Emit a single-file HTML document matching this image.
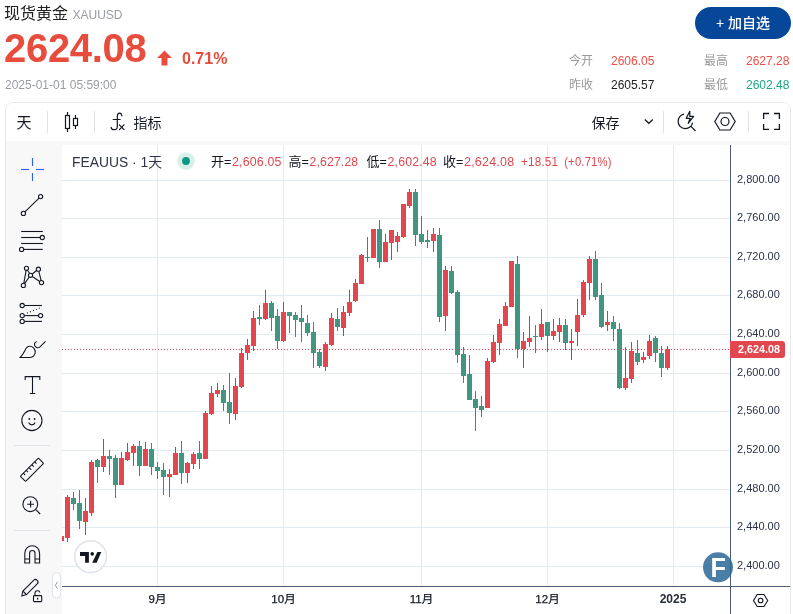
<!DOCTYPE html>
<html lang="zh-CN"><head><meta charset="utf-8"><title>现货黄金 XAUUSD</title>
<style>
html,body{margin:0;padding:0;}
body{width:793px;height:614px;overflow:hidden;position:relative;background:#fff;font-family:"Liberation Sans","Noto Sans CJK SC",sans-serif;}
.a{position:absolute;white-space:nowrap;line-height:1;}
.cjk{font-family:"Liberation Sans","Noto Sans CJK SC",sans-serif;}
</style></head><body>

<div class="a" style="left:4px;top:6px;font-size:16px;color:#222;">现货黄金 <span style="font-size:12px;color:#9a9ca6;position:relative;top:0px;">XAUUSD</span></div>
<div class="a" style="left:4px;top:28px;font-size:40px;font-weight:bold;color:#e84c3d;letter-spacing:-0.3px;">2624.08</div>
<svg class="a" style="left:156px;top:50px" width="17" height="16" viewBox="0 0 17 16"><path d="M8.5 0.5 L16 8 L11.5 8 L11.5 15.5 L5.5 15.5 L5.5 8 L1 8 Z" fill="#e84c3d"/></svg>
<div class="a" style="left:182px;top:51px;font-size:16px;font-weight:bold;color:#e84c3d;">0.71%</div>
<div class="a" style="left:5px;top:79px;font-size:12px;color:#999ba3;">2025-01-01 05:59:00</div>
<div class="a" style="left:695px;top:7px;width:96px;height:32px;border-radius:16px;background:#074799;color:#fff;font-size:14px;font-weight:500;line-height:32px;text-align:center;">+ 加自选</div>
<div class="a" style="left:569px;top:55px;font-size:12px;color:#999;">今开</div>
<div class="a" style="left:611px;top:55px;font-size:12px;color:#ee4e44;">2606.05</div>
<div class="a" style="left:704px;top:55px;font-size:12px;color:#999;">最高</div>
<div class="a" style="left:746px;top:55px;font-size:12px;color:#ee4e44;">2627.28</div>
<div class="a" style="left:569px;top:79px;font-size:12px;color:#999;">昨收</div>
<div class="a" style="left:611px;top:79px;font-size:12px;color:#222;">2605.57</div>
<div class="a" style="left:704px;top:79px;font-size:12px;color:#999;">最低</div>
<div class="a" style="left:746px;top:79px;font-size:12px;color:#1ba784;">2602.48</div>
<div class="a" style="left:5px;top:102px;width:784px;height:530px;border:1px solid #e6e8ee;border-radius:8px;background:#f8f8f8;overflow:hidden;">
<div class="a" style="left:0;top:0;width:784px;height:38px;background:#fff;"></div>
</div>
<svg class="a" style="left:0;top:0" width="793" height="614" viewBox="0 0 793 614">
<rect x="62" y="145" width="728" height="480" fill="#fff"/>
<line x1="62" y1="180.5" x2="730" y2="180.5" stroke="#e3ebf2" stroke-width="1"/>
<line x1="62" y1="218.5" x2="730" y2="218.5" stroke="#e3ebf2" stroke-width="1"/>
<line x1="62" y1="257.5" x2="730" y2="257.5" stroke="#e3ebf2" stroke-width="1"/>
<line x1="62" y1="295.5" x2="730" y2="295.5" stroke="#e3ebf2" stroke-width="1"/>
<line x1="62" y1="334.5" x2="730" y2="334.5" stroke="#e3ebf2" stroke-width="1"/>
<line x1="62" y1="373.5" x2="730" y2="373.5" stroke="#e3ebf2" stroke-width="1"/>
<line x1="62" y1="411.5" x2="730" y2="411.5" stroke="#e3ebf2" stroke-width="1"/>
<line x1="62" y1="450.5" x2="730" y2="450.5" stroke="#e3ebf2" stroke-width="1"/>
<line x1="62" y1="489.5" x2="730" y2="489.5" stroke="#e3ebf2" stroke-width="1"/>
<line x1="62" y1="527.5" x2="730" y2="527.5" stroke="#e3ebf2" stroke-width="1"/>
<line x1="62" y1="566.5" x2="730" y2="566.5" stroke="#e3ebf2" stroke-width="1"/>
<line x1="157.5" y1="145" x2="157.5" y2="586" stroke="#e3ebf2" stroke-width="1"/>
<line x1="283.5" y1="145" x2="283.5" y2="586" stroke="#e3ebf2" stroke-width="1"/>
<line x1="421.5" y1="145" x2="421.5" y2="586" stroke="#e3ebf2" stroke-width="1"/>
<line x1="547.5" y1="145" x2="547.5" y2="586" stroke="#e3ebf2" stroke-width="1"/>
<line x1="673.5" y1="145" x2="673.5" y2="586" stroke="#e3ebf2" stroke-width="1"/>
<g shape-rendering="crispEdges">
<clipPath id="cp"><rect x="62" y="145" width="668" height="441"/></clipPath>
<g clip-path="url(#cp)">
<rect x="61" y="534" width="1" height="8" fill="#b8444e"/>
<rect x="59" y="536" width="5" height="5" fill="#e2474f"/>
<rect x="67" y="495" width="1" height="47" fill="#b8444e"/>
<rect x="65" y="497" width="5" height="41" fill="#e2474f"/>
<rect x="73" y="492" width="1" height="18" fill="#3f8b60"/>
<rect x="71" y="498" width="5" height="6" fill="#419681"/>
<rect x="79" y="490" width="1" height="39" fill="#3f8b60"/>
<rect x="77" y="503" width="5" height="18" fill="#419681"/>
<rect x="85" y="498" width="1" height="37" fill="#b8444e"/>
<rect x="83" y="511" width="5" height="11" fill="#e2474f"/>
<rect x="91" y="460" width="1" height="56" fill="#b8444e"/>
<rect x="89" y="462" width="5" height="51" fill="#e2474f"/>
<rect x="97" y="459" width="1" height="24" fill="#3f8b60"/>
<rect x="95" y="460" width="5" height="7" fill="#419681"/>
<rect x="103" y="439" width="1" height="33" fill="#b8444e"/>
<rect x="101" y="456" width="5" height="11" fill="#e2474f"/>
<rect x="109" y="450" width="1" height="25" fill="#3f8b60"/>
<rect x="107" y="456" width="5" height="3" fill="#419681"/>
<rect x="115" y="455" width="1" height="43" fill="#3f8b60"/>
<rect x="113" y="458" width="5" height="27" fill="#419681"/>
<rect x="121" y="452" width="1" height="33" fill="#b8444e"/>
<rect x="119" y="458" width="5" height="27" fill="#e2474f"/>
<rect x="127" y="443" width="1" height="18" fill="#b8444e"/>
<rect x="125" y="452" width="5" height="8" fill="#e2474f"/>
<rect x="133" y="444" width="1" height="22" fill="#b8444e"/>
<rect x="131" y="446" width="5" height="7" fill="#e2474f"/>
<rect x="139" y="441" width="1" height="35" fill="#3f8b60"/>
<rect x="137" y="446" width="5" height="20" fill="#419681"/>
<rect x="145" y="442" width="1" height="24" fill="#b8444e"/>
<rect x="143" y="449" width="5" height="17" fill="#e2474f"/>
<rect x="151" y="443" width="1" height="32" fill="#3f8b60"/>
<rect x="149" y="449" width="5" height="18" fill="#419681"/>
<rect x="157" y="462" width="1" height="17" fill="#3f8b60"/>
<rect x="155" y="467" width="5" height="4" fill="#419681"/>
<rect x="163" y="463" width="1" height="32" fill="#3f8b60"/>
<rect x="161" y="470" width="5" height="7" fill="#419681"/>
<rect x="169" y="469" width="1" height="28" fill="#b8444e"/>
<rect x="167" y="474" width="5" height="3" fill="#e2474f"/>
<rect x="175" y="447" width="1" height="28" fill="#b8444e"/>
<rect x="173" y="453" width="5" height="22" fill="#e2474f"/>
<rect x="181" y="441" width="1" height="43" fill="#3f8b60"/>
<rect x="179" y="453" width="5" height="20" fill="#419681"/>
<rect x="187" y="462" width="1" height="21" fill="#b8444e"/>
<rect x="185" y="463" width="5" height="10" fill="#e2474f"/>
<rect x="193" y="452" width="1" height="17" fill="#b8444e"/>
<rect x="191" y="454" width="5" height="10" fill="#e2474f"/>
<rect x="199" y="441" width="1" height="28" fill="#3f8b60"/>
<rect x="197" y="453" width="5" height="6" fill="#419681"/>
<rect x="205" y="411" width="1" height="48" fill="#b8444e"/>
<rect x="203" y="413" width="5" height="46" fill="#e2474f"/>
<rect x="211" y="386" width="1" height="29" fill="#b8444e"/>
<rect x="209" y="393" width="5" height="21" fill="#e2474f"/>
<rect x="217" y="383" width="1" height="14" fill="#b8444e"/>
<rect x="215" y="390" width="5" height="4" fill="#e2474f"/>
<rect x="223" y="385" width="1" height="26" fill="#3f8b60"/>
<rect x="221" y="390" width="5" height="13" fill="#419681"/>
<rect x="229" y="373" width="1" height="51" fill="#3f8b60"/>
<rect x="227" y="402" width="5" height="11" fill="#419681"/>
<rect x="235" y="378" width="1" height="42" fill="#b8444e"/>
<rect x="233" y="386" width="5" height="28" fill="#e2474f"/>
<rect x="241" y="348" width="1" height="40" fill="#b8444e"/>
<rect x="239" y="353" width="5" height="34" fill="#e2474f"/>
<rect x="247" y="339" width="1" height="21" fill="#b8444e"/>
<rect x="245" y="345" width="5" height="8" fill="#e2474f"/>
<rect x="253" y="311" width="1" height="40" fill="#b8444e"/>
<rect x="251" y="318" width="5" height="28" fill="#e2474f"/>
<rect x="259" y="305" width="1" height="20" fill="#3f8b60"/>
<rect x="257" y="317" width="5" height="2" fill="#419681"/>
<rect x="265" y="290" width="1" height="30" fill="#b8444e"/>
<rect x="263" y="303" width="5" height="16" fill="#e2474f"/>
<rect x="271" y="301" width="1" height="30" fill="#3f8b60"/>
<rect x="269" y="303" width="5" height="15" fill="#419681"/>
<rect x="277" y="309" width="1" height="40" fill="#3f8b60"/>
<rect x="275" y="316" width="5" height="25" fill="#419681"/>
<rect x="283" y="302" width="1" height="40" fill="#b8444e"/>
<rect x="281" y="312" width="5" height="29" fill="#e2474f"/>
<rect x="289" y="312" width="1" height="21" fill="#3f8b60"/>
<rect x="287" y="312" width="5" height="4" fill="#419681"/>
<rect x="295" y="312" width="1" height="25" fill="#3f8b60"/>
<rect x="293" y="315" width="5" height="5" fill="#419681"/>
<rect x="301" y="305" width="1" height="37" fill="#3f8b60"/>
<rect x="299" y="318" width="5" height="4" fill="#419681"/>
<rect x="307" y="315" width="1" height="21" fill="#3f8b60"/>
<rect x="305" y="323" width="5" height="10" fill="#419681"/>
<rect x="313" y="322" width="1" height="46" fill="#3f8b60"/>
<rect x="311" y="332" width="5" height="21" fill="#419681"/>
<rect x="319" y="349" width="1" height="19" fill="#3f8b60"/>
<rect x="317" y="352" width="5" height="14" fill="#419681"/>
<rect x="325" y="342" width="1" height="29" fill="#b8444e"/>
<rect x="323" y="344" width="5" height="23" fill="#e2474f"/>
<rect x="331" y="313" width="1" height="33" fill="#b8444e"/>
<rect x="329" y="318" width="5" height="27" fill="#e2474f"/>
<rect x="337" y="308" width="1" height="23" fill="#3f8b60"/>
<rect x="335" y="319" width="5" height="8" fill="#419681"/>
<rect x="343" y="306" width="1" height="30" fill="#b8444e"/>
<rect x="341" y="312" width="5" height="16" fill="#e2474f"/>
<rect x="349" y="290" width="1" height="26" fill="#b8444e"/>
<rect x="347" y="302" width="5" height="11" fill="#e2474f"/>
<rect x="355" y="279" width="1" height="23" fill="#b8444e"/>
<rect x="353" y="283" width="5" height="18" fill="#e2474f"/>
<rect x="361" y="254" width="1" height="30" fill="#b8444e"/>
<rect x="359" y="255" width="5" height="29" fill="#e2474f"/>
<rect x="367" y="237" width="1" height="25" fill="#3f8b60"/>
<rect x="365" y="257" width="5" height="1" fill="#419681"/>
<rect x="373" y="229" width="1" height="29" fill="#b8444e"/>
<rect x="371" y="229" width="5" height="29" fill="#e2474f"/>
<rect x="379" y="220" width="1" height="48" fill="#3f8b60"/>
<rect x="377" y="229" width="5" height="33" fill="#419681"/>
<rect x="385" y="234" width="1" height="28" fill="#b8444e"/>
<rect x="383" y="242" width="5" height="20" fill="#e2474f"/>
<rect x="391" y="230" width="1" height="30" fill="#b8444e"/>
<rect x="389" y="230" width="5" height="13" fill="#e2474f"/>
<rect x="397" y="232" width="1" height="20" fill="#b8444e"/>
<rect x="395" y="236" width="5" height="6" fill="#e2474f"/>
<rect x="403" y="204" width="1" height="34" fill="#b8444e"/>
<rect x="401" y="204" width="5" height="33" fill="#e2474f"/>
<rect x="409" y="189" width="1" height="19" fill="#b8444e"/>
<rect x="407" y="192" width="5" height="14" fill="#e2474f"/>
<rect x="415" y="189" width="1" height="57" fill="#3f8b60"/>
<rect x="413" y="192" width="5" height="43" fill="#419681"/>
<rect x="421" y="216" width="1" height="28" fill="#3f8b60"/>
<rect x="419" y="234" width="5" height="8" fill="#419681"/>
<rect x="427" y="230" width="1" height="18" fill="#3f8b60"/>
<rect x="425" y="240" width="5" height="2" fill="#419681"/>
<rect x="433" y="228" width="1" height="24" fill="#b8444e"/>
<rect x="431" y="234" width="5" height="7" fill="#e2474f"/>
<rect x="439" y="228" width="1" height="94" fill="#3f8b60"/>
<rect x="437" y="235" width="5" height="82" fill="#419681"/>
<rect x="445" y="266" width="1" height="65" fill="#b8444e"/>
<rect x="443" y="270" width="5" height="46" fill="#e2474f"/>
<rect x="451" y="266" width="1" height="28" fill="#3f8b60"/>
<rect x="449" y="271" width="5" height="22" fill="#419681"/>
<rect x="457" y="290" width="1" height="73" fill="#3f8b60"/>
<rect x="455" y="292" width="5" height="63" fill="#419681"/>
<rect x="463" y="347" width="1" height="36" fill="#3f8b60"/>
<rect x="461" y="354" width="5" height="22" fill="#419681"/>
<rect x="469" y="355" width="1" height="45" fill="#3f8b60"/>
<rect x="467" y="374" width="5" height="26" fill="#419681"/>
<rect x="475" y="391" width="1" height="40" fill="#3f8b60"/>
<rect x="473" y="399" width="5" height="9" fill="#419681"/>
<rect x="481" y="396" width="1" height="21" fill="#3f8b60"/>
<rect x="479" y="406" width="5" height="4" fill="#419681"/>
<rect x="487" y="358" width="1" height="50" fill="#b8444e"/>
<rect x="485" y="361" width="5" height="47" fill="#e2474f"/>
<rect x="493" y="335" width="1" height="28" fill="#b8444e"/>
<rect x="491" y="342" width="5" height="20" fill="#e2474f"/>
<rect x="499" y="319" width="1" height="36" fill="#b8444e"/>
<rect x="497" y="324" width="5" height="19" fill="#e2474f"/>
<rect x="505" y="302" width="1" height="24" fill="#b8444e"/>
<rect x="503" y="306" width="5" height="20" fill="#e2474f"/>
<rect x="511" y="261" width="1" height="46" fill="#b8444e"/>
<rect x="509" y="261" width="5" height="46" fill="#e2474f"/>
<rect x="517" y="256" width="1" height="102" fill="#3f8b60"/>
<rect x="515" y="264" width="5" height="85" fill="#419681"/>
<rect x="523" y="332" width="1" height="36" fill="#b8444e"/>
<rect x="521" y="341" width="5" height="8" fill="#e2474f"/>
<rect x="529" y="316" width="1" height="31" fill="#b8444e"/>
<rect x="527" y="338" width="5" height="4" fill="#e2474f"/>
<rect x="535" y="325" width="1" height="28" fill="#3f8b60"/>
<rect x="533" y="336" width="5" height="1" fill="#419681"/>
<rect x="541" y="309" width="1" height="31" fill="#b8444e"/>
<rect x="539" y="324" width="5" height="13" fill="#e2474f"/>
<rect x="547" y="322" width="1" height="30" fill="#3f8b60"/>
<rect x="545" y="322" width="5" height="14" fill="#419681"/>
<rect x="553" y="319" width="1" height="21" fill="#b8444e"/>
<rect x="551" y="331" width="5" height="5" fill="#e2474f"/>
<rect x="559" y="318" width="1" height="24" fill="#b8444e"/>
<rect x="557" y="325" width="5" height="7" fill="#e2474f"/>
<rect x="565" y="319" width="1" height="31" fill="#3f8b60"/>
<rect x="563" y="325" width="5" height="18" fill="#419681"/>
<rect x="571" y="329" width="1" height="31" fill="#b8444e"/>
<rect x="569" y="341" width="5" height="2" fill="#e2474f"/>
<rect x="577" y="299" width="1" height="47" fill="#b8444e"/>
<rect x="575" y="315" width="5" height="17" fill="#e2474f"/>
<rect x="583" y="280" width="1" height="37" fill="#b8444e"/>
<rect x="581" y="282" width="5" height="33" fill="#e2474f"/>
<rect x="589" y="256" width="1" height="44" fill="#b8444e"/>
<rect x="587" y="259" width="5" height="24" fill="#e2474f"/>
<rect x="595" y="251" width="1" height="49" fill="#3f8b60"/>
<rect x="593" y="259" width="5" height="38" fill="#419681"/>
<rect x="601" y="283" width="1" height="45" fill="#3f8b60"/>
<rect x="599" y="295" width="5" height="32" fill="#419681"/>
<rect x="607" y="311" width="1" height="20" fill="#b8444e"/>
<rect x="605" y="322" width="5" height="3" fill="#e2474f"/>
<rect x="613" y="316" width="1" height="25" fill="#3f8b60"/>
<rect x="611" y="322" width="5" height="7" fill="#419681"/>
<rect x="619" y="323" width="1" height="66" fill="#3f8b60"/>
<rect x="617" y="329" width="5" height="59" fill="#419681"/>
<rect x="625" y="347" width="1" height="43" fill="#b8444e"/>
<rect x="623" y="378" width="5" height="10" fill="#e2474f"/>
<rect x="631" y="342" width="1" height="41" fill="#b8444e"/>
<rect x="629" y="351" width="5" height="28" fill="#e2474f"/>
<rect x="637" y="340" width="1" height="25" fill="#3f8b60"/>
<rect x="635" y="353" width="5" height="9" fill="#419681"/>
<rect x="643" y="352" width="1" height="11" fill="#b8444e"/>
<rect x="641" y="357" width="5" height="3" fill="#e2474f"/>
<rect x="649" y="335" width="1" height="24" fill="#b8444e"/>
<rect x="647" y="341" width="5" height="15" fill="#e2474f"/>
<rect x="655" y="336" width="1" height="26" fill="#3f8b60"/>
<rect x="653" y="338" width="5" height="15" fill="#419681"/>
<rect x="661" y="346" width="1" height="31" fill="#3f8b60"/>
<rect x="659" y="353" width="5" height="15" fill="#419681"/>
<rect x="667" y="346" width="1" height="24" fill="#b8444e"/>
<rect x="665" y="349" width="5" height="19" fill="#e2474f"/>
</g></g>
<line x1="62" y1="349.5" x2="730" y2="349.5" stroke="#e2474f" stroke-width="1" stroke-dasharray="1 2"/>
<line x1="730.5" y1="145" x2="730.5" y2="614" stroke="#4e5a7c" stroke-width="1"/>
<line x1="62" y1="586.5" x2="790" y2="586.5" stroke="#4e5a7c" stroke-width="1"/>
<text x="737" y="182.5" font-family="Liberation Sans" font-size="11" fill="#2b3148">2,800.00</text>
<text x="737" y="220.5" font-family="Liberation Sans" font-size="11" fill="#2b3148">2,760.00</text>
<text x="737" y="259.5" font-family="Liberation Sans" font-size="11" fill="#2b3148">2,720.00</text>
<text x="737" y="297.5" font-family="Liberation Sans" font-size="11" fill="#2b3148">2,680.00</text>
<text x="737" y="336.5" font-family="Liberation Sans" font-size="11" fill="#2b3148">2,640.00</text>
<text x="737" y="375.5" font-family="Liberation Sans" font-size="11" fill="#2b3148">2,600.00</text>
<text x="737" y="413.5" font-family="Liberation Sans" font-size="11" fill="#2b3148">2,560.00</text>
<text x="737" y="452.5" font-family="Liberation Sans" font-size="11" fill="#2b3148">2,520.00</text>
<text x="737" y="491.5" font-family="Liberation Sans" font-size="11" fill="#2b3148">2,480.00</text>
<text x="737" y="529.5" font-family="Liberation Sans" font-size="11" fill="#2b3148">2,440.00</text>
<text x="737" y="568.5" font-family="Liberation Sans" font-size="11" fill="#2b3148">2,400.00</text>
<path d="M730 341 H782 a3 3 0 0 1 3 3 V355 a3 3 0 0 1 -3 3 H730 Z" fill="#e2474f"/>
<text x="738" y="353" font-family="Liberation Sans" font-size="11" font-weight="bold" fill="#fff" textLength="42" lengthAdjust="spacingAndGlyphs">2,624.08</text>
<text x="157.5" y="602.7" text-anchor="middle" font-family="Liberation Sans, Noto Sans CJK SC, sans-serif" font-size="11.5" fill="#131722" stroke="#131722" stroke-width="0.25">9月</text>
<text x="283.5" y="602.7" text-anchor="middle" font-family="Liberation Sans, Noto Sans CJK SC, sans-serif" font-size="11.5" fill="#131722" stroke="#131722" stroke-width="0.25">10月</text>
<text x="421.5" y="602.7" text-anchor="middle" font-family="Liberation Sans, Noto Sans CJK SC, sans-serif" font-size="11.5" fill="#131722" stroke="#131722" stroke-width="0.25">11月</text>
<text x="547.5" y="602.7" text-anchor="middle" font-family="Liberation Sans, Noto Sans CJK SC, sans-serif" font-size="11.5" fill="#131722" stroke="#131722" stroke-width="0.25">12月</text>
<text x="673" y="602.7" text-anchor="middle" font-family="Liberation Sans, sans-serif" font-size="12" font-weight="bold" fill="#2a2e39">2025</text>
<g fill="none" stroke="#e0e3eb" stroke-width="1"><line x1="47.5" y1="111" x2="47.5" y2="133"/><line x1="94.5" y1="111" x2="94.5" y2="133"/><line x1="663.5" y1="111" x2="663.5" y2="133"/><line x1="748.5" y1="111" x2="748.5" y2="133"/></g>
<text x="16.5" y="128" font-family="Noto Sans CJK SC, sans-serif" font-size="15" fill="#131722">天</text>
<g fill="none" stroke="#131722" stroke-width="1.2"><rect x="65.5" y="115.5" width="4" height="13"/><line x1="67.5" y1="112" x2="67.5" y2="115.5"/><line x1="67.5" y1="128.5" x2="67.5" y2="132"/><rect x="73.5" y="118.5" width="4" height="7"/><line x1="75.5" y1="115" x2="75.5" y2="118.5"/><line x1="75.5" y1="125.5" x2="75.5" y2="129"/></g>
<g fill="none" stroke="#131722" stroke-width="1.2" stroke-linecap="round"><path d="M121.8 115.8 C121.6 114 120.7 113.1 119.6 113.1 C118.4 113.1 117.3 114.2 117.3 116.5 V126.5 C117.3 128.5 116 129.7 114.3 129.7 C112.5 129.7 111.3 128.6 111.1 127.3"/><line x1="113.2" y1="119.5" x2="120.2" y2="119.5"/><line x1="119.4" y1="124.8" x2="124" y2="129.6"/><line x1="124" y1="124.8" x2="119.4" y2="129.6"/></g>
<text x="133.5" y="128" font-family="Noto Sans CJK SC, sans-serif" font-size="14" fill="#131722">指标</text>
<text x="591.5" y="128" font-family="Noto Sans CJK SC, sans-serif" font-size="14" fill="#131722">保存</text>
<path d="M644.8 119.5 L648.8 123.3 L652.8 119.5" fill="none" stroke="#131722" stroke-width="1.2"/>
<g fill="none" stroke="#131722" stroke-width="1.2" stroke-linejoin="round"><path d="M684 114.2 A7.3 7.3 0 1 0 692.6 122.6"/><path d="M689.8 111.3 L686.2 118.3 H690.2 L688.2 123.4 L693.6 116.4 H689.8 Z"/><line x1="691" y1="126.3" x2="695.5" y2="131"/></g>
<g fill="none" stroke="#131722" stroke-width="1.2"><path d="M714.8 121.5 L719.9 113 H730.1 L735.2 121.5 L730.1 130 H719.9 Z"/><circle cx="725" cy="121.5" r="4"/></g>
<g fill="none" stroke="#131722" stroke-width="1.3"><path d="M763.6 119 V113.5 H769"/><path d="M774 113.5 H779.4 V119"/><path d="M779.4 124 V129.4 H774"/><path d="M769 129.4 H763.6 V124"/></g>
<g fill="none" stroke="#2962ff" stroke-width="1.1"><line x1="32.5" y1="158" x2="32.5" y2="166"/><line x1="32.5" y1="173" x2="32.5" y2="181"/><line x1="21" y1="169.5" x2="29" y2="169.5"/><line x1="36" y1="169.5" x2="44" y2="169.5"/></g>
<g fill="none" stroke="#131722" stroke-width="1.1">
<circle cx="23.4" cy="213.4" r="2.1"/><circle cx="40.6" cy="196.6" r="2.1"/><line x1="24.9" y1="211.9" x2="39.1" y2="198.1"/>
<line x1="21.2" y1="231.5" x2="42.8" y2="231.5"/><line x1="21.2" y1="237.5" x2="40.2" y2="237.5"/><circle cx="42.3" cy="237.5" r="2.1"/><line x1="21.2" y1="243.5" x2="42.8" y2="243.5"/><circle cx="21.6" cy="249.4" r="2.1"/><line x1="23.7" y1="249.4" x2="42.8" y2="249.4"/>
<circle cx="26.5" cy="268.3" r="2.1"/><circle cx="38.4" cy="269.2" r="2.1"/><circle cx="30.5" cy="275.3" r="2.1"/><circle cx="23.4" cy="285.4" r="2.1"/><circle cx="41.5" cy="282.6" r="2.1"/>
<path d="M23.8 283.3 L26.1 270.4 M27.4 270.2 L29.6 273.3 M29.2 277 L24.6 283.6 M32.3 274 L36.6 270.5 M38.8 271.3 L41.1 280.5 M32.3 276.5 L39.7 281.5"/>
<circle cx="22.2" cy="305.5" r="2.1"/><line x1="24.3" y1="305.5" x2="42" y2="305.5"/><circle cx="22.2" cy="315.6" r="2.1"/><circle cx="40.6" cy="315.6" r="2.1"/><line x1="24.3" y1="315.6" x2="38.5" y2="315.6"/><circle cx="22.2" cy="321.4" r="2.1"/><line x1="24.3" y1="321.4" x2="42" y2="321.4"/>
<line x1="27" y1="313.2" x2="40.5" y2="307.6" stroke-dasharray="1 2.2"/>
<path d="M20.2 357.5 H30 C33 357.5 35.2 355 35.2 352 C35.2 348.8 32.8 346.3 29.7 346.3 C26.5 346.3 25.7 348.8 24.8 350.8 C23.5 353.8 21.8 355.8 20.2 357.5 Z"/><path d="M36.6 341.4 C34.2 342.5 33.8 345 35.5 346.7 C37 348.2 38.8 348 40 346.8 L45.5 341.3"/>
<path d="M25.2 380 V376.6 H39.8 V380 M32.5 376.6 V393.5 M29.8 393.5 H35.2"/>
<circle cx="31.9" cy="420.5" r="10.1"/><path d="M28.6 422.6 C30 425.6 33.8 425.6 35.2 422.6"/>
</g>
<circle cx="29.3" cy="419" r="0.9" fill="#131722"/><circle cx="34.6" cy="419" r="0.9" fill="#131722"/>
<line x1="14" y1="445.5" x2="50" y2="445.5" stroke="#e0e3eb"/><line x1="14" y1="530.5" x2="50" y2="530.5" stroke="#e0e3eb"/>
<g fill="none" stroke="#131722" stroke-width="1.1">
<g transform="rotate(-45 32 469.8)"><rect x="19.2" y="466.1" width="25.6" height="7.4" rx="0.8"/><path d="M23.5 466.1 v2.6 M27.5 466.1 v2.6 M31.5 466.1 v3.2 M35.5 466.1 v2.6 M39.5 466.1 v2.6"/></g>
<circle cx="30.3" cy="504.2" r="7.4"/><path d="M27.2 504.2 H34 M30.6 500.8 V507.6 M35.8 509.6 L40.2 514"/>
<path d="M24.8 563 V553.2 A7.4 7.4 0 0 1 39.6 553.2 V563 H35 V553.2 A2.6 2.6 0 0 0 29.6 553.2 V563 Z M24.8 559 H29.6 M35 559 H39.6"/>
<path d="M21.8 596 L22.9 591 L33.6 580.3 C34.6 579.3 36.2 579.3 37.2 580.3 C38.2 581.3 38.2 582.9 37.2 583.9 L26.5 594.6 Z M22.9 591 L26.5 594.6"/>
<rect x="33.5" y="595.6" width="8.2" height="6" rx="0.8"/><path d="M35 595.6 V593 C35 590 39.6 590 39.9 592.5"/>
</g>
<rect x="37" y="597.8" width="1.2" height="1.8" fill="#131722"/>
<rect x="52.5" y="572.5" width="8" height="25.5" rx="4" fill="#fff" stroke="#e0e3eb"/><path d="M57.5 582 L55.3 585.3 L57.5 588.6" fill="none" stroke="#9598a1" stroke-width="1"/>
<text x="72" y="166.5" font-family="Liberation Sans, Noto Sans CJK SC, sans-serif" font-size="14" fill="#2e3347" textLength="90" lengthAdjust="spacingAndGlyphs">FEAUUS · 1天</text>
<circle cx="186" cy="161" r="8.8" fill="#d9efea"/><circle cx="186" cy="161" r="3.9" fill="#089981"/>
<text x="211" y="166" font-family="Noto Sans CJK SC, sans-serif" font-size="13" fill="#131722">开</text>
<text x="224" y="166" font-family="Liberation Sans" font-size="12.5" fill="#131722">=</text>
<text x="232" y="166" font-family="Liberation Sans, sans-serif" font-size="12.5" letter-spacing="0.2" fill="#e2474f" textLength="49.7" lengthAdjust="spacingAndGlyphs">2,606.05</text>
<text x="288.5" y="166" font-family="Noto Sans CJK SC, sans-serif" font-size="13" fill="#131722">高</text>
<text x="301.5" y="166" font-family="Liberation Sans" font-size="12.5" fill="#131722">=</text>
<text x="309.5" y="166" font-family="Liberation Sans, sans-serif" font-size="12.5" letter-spacing="0.2" fill="#e2474f" textLength="48.8" lengthAdjust="spacingAndGlyphs">2,627.28</text>
<text x="366.5" y="166" font-family="Noto Sans CJK SC, sans-serif" font-size="13" fill="#131722">低</text>
<text x="379.5" y="166" font-family="Liberation Sans" font-size="12.5" fill="#131722">=</text>
<text x="387.5" y="166" font-family="Liberation Sans, sans-serif" font-size="12.5" letter-spacing="0.2" fill="#e2474f" textLength="49.4" lengthAdjust="spacingAndGlyphs">2,602.48</text>
<text x="443" y="166" font-family="Noto Sans CJK SC, sans-serif" font-size="13" fill="#131722">收</text>
<text x="456" y="166" font-family="Liberation Sans" font-size="12.5" fill="#131722">=</text>
<text x="464" y="166" font-family="Liberation Sans, sans-serif" font-size="12.5" letter-spacing="0.2" fill="#e2474f" textLength="50.4" lengthAdjust="spacingAndGlyphs">2,624.08</text>
<text x="521" y="166" font-family="Liberation Sans, sans-serif" font-size="12.5" letter-spacing="0.2" fill="#e2474f" textLength="37.2" lengthAdjust="spacingAndGlyphs">+18.51</text>
<text x="564.2" y="166" font-family="Liberation Sans, sans-serif" font-size="12.5" letter-spacing="0.2" fill="#e2474f" textLength="47.5" lengthAdjust="spacingAndGlyphs">(+0.71%)</text>
<circle cx="90.6" cy="556.7" r="15.9" fill="#fff" stroke="#e0e3eb" stroke-width="1.6"/>
<path d="M80 552.1 H88.9 V562.7 H85.1 V555.9 H80 Z" fill="#131722"/><circle cx="92.2" cy="553.9" r="1.8" fill="#131722"/><path d="M97.4 552.1 H101.3 L96.6 562.7 H92.2 Z" fill="#131722"/>
<circle cx="718" cy="567.3" r="15" fill="#2b6796" fill-opacity="0.85"/>
<text x="710.5" y="576.7" font-family="Liberation Sans" font-weight="bold" font-size="27" fill="#fff" textLength="15.5" lengthAdjust="spacingAndGlyphs">F</text>
<g fill="none" stroke="#131722" stroke-width="1.1"><path d="M753.5 600.5 L757.2 594.5 H764 L767.7 600.5 L764 606.5 H757.2 Z"/><circle cx="760.6" cy="600.5" r="2.3"/></g>
</svg>
</body></html>
